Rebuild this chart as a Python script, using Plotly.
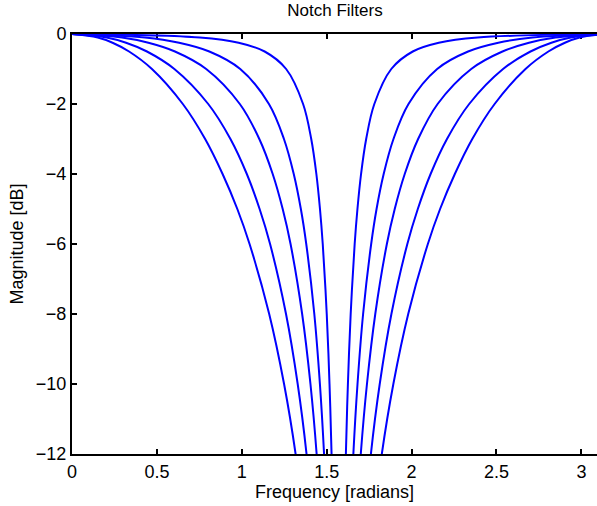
import plotly.graph_objects as go

# Magnitude levels (dB) at which each curve's frequency was read
levels = [0, -0.1, -0.25, -0.5, -1, -2, -3, -4, -5, -6, -8, -10, -12, -15]

# Frequencies (radians) where each curve passes the levels above, left side of the notch
left_1 = [0, 0.1514, 0.2388, 0.3360, 0.4708, 0.6527, 0.7842, 0.8869, 0.9737, 1.0458, 1.1614, 1.2490, 1.3169, 1.3920]
left_2 = [0, 0.2036, 0.3182, 0.4414, 0.6029, 0.8024, 0.9332, 1.0296, 1.1050, 1.1666, 1.2605, 1.3292, 1.3813, 1.4380]
left_3 = [0, 0.2941, 0.4501, 0.6063, 0.7904, 0.9884, 1.1032, 1.1820, 1.2409, 1.2872, 1.3555, 1.4044, 1.4408, 1.4800]
left_4 = [0, 0.4293, 0.6307, 0.8088, 0.9909, 1.1598, 1.2483, 1.3060, 1.3479, 1.3796, 1.4271, 1.4601, 1.4845, 1.5106]
left_5 = [0, 0.7532, 0.9814, 1.1347, 1.2612, 1.3610, 1.4090, 1.4392, 1.4605, 1.4768, 1.5003, 1.5166, 1.5286, 1.5414]

# Same levels, right side of the notch
right_1 = [3.1416, 2.9902, 2.9028, 2.8056, 2.6708, 2.4889, 2.3574, 2.2547, 2.1679, 2.0958, 1.9802, 1.8926, 1.8247, 1.7496]
right_2 = [3.1416, 2.9380, 2.8234, 2.7002, 2.5387, 2.3392, 2.2084, 2.1120, 2.0366, 1.9750, 1.8811, 1.8124, 1.7603, 1.7036]
right_3 = [3.1416, 2.8475, 2.6915, 2.5353, 2.3512, 2.1532, 2.0384, 1.9596, 1.9007, 1.8544, 1.7861, 1.7372, 1.7008, 1.6616]
right_4 = [3.1416, 2.7123, 2.5109, 2.3328, 2.1507, 1.9818, 1.8933, 1.8356, 1.7937, 1.7620, 1.7145, 1.6815, 1.6571, 1.6310]
right_5 = [3.1416, 2.3884, 2.1602, 2.0069, 1.8804, 1.7806, 1.7326, 1.7024, 1.6811, 1.6648, 1.6413, 1.6250, 1.6130, 1.6002]

x_ticks = [0, 0.5, 1, 1.5, 2, 2.5, 3]
x_tick_labels = ["0", "0.5", "1", "1.5", "2", "2.5", "3"]
y_ticks = [0, -2, -4, -6, -8, -10, -12]

title_text = "Notch Filters"
x_title = "Frequency [radians]"
y_title = "Magnitude [dB]"

FONT = "Liberation Sans, Arial, Helvetica, sans-serif"

fig = go.Figure()
curves = [(left_1, right_1), (left_2, right_2), (left_3, right_3), (left_4, right_4), (left_5, right_5)]
for lx, rx in curves:
    xs = list(lx) + [None] + list(reversed(rx))
    ys = list(levels) + [None] + list(reversed(levels))
    fig.add_trace(go.Scatter(
        x=xs, y=ys, mode="lines",
        line=dict(color="#0000FF", width=2, shape="spline", smoothing=1.0),
        connectgaps=False, showlegend=False, hoverinfo="skip",
    ))

fig.update_layout(
    width=597, height=506,
    margin=dict(l=72, r=0, t=34, b=52),
    paper_bgcolor="white", plot_bgcolor="white",
    font=dict(family=FONT, size=18, color="black"),
    title=dict(text=title_text, x=335 / 597, xref="container", xanchor="center",
               y=1 - 10 / 506, yref="container", yanchor="middle",
               font=dict(family=FONT, size=17, color="black")),
    showlegend=False,
)
fig.update_xaxes(
    range=[0, 3.092], tickvals=x_ticks, ticktext=x_tick_labels,
    showgrid=False, zeroline=False,
    showline=True, linecolor="black", linewidth=2, mirror="ticks",
    ticks="inside", ticklen=5, tickwidth=1.5, tickcolor="black",
    layer="below traces",
    title=dict(text=x_title, standoff=1, font=dict(family=FONT, size=18)),
)
fig.update_yaxes(
    range=[-12, 0], tickvals=y_ticks,
    showgrid=False, zeroline=False,
    showline=True, linecolor="black", linewidth=2, mirror=False,
    ticks="inside", ticklen=5, tickwidth=1.5, tickcolor="black",
    layer="below traces",
    title=dict(text=y_title, standoff=8, font=dict(family=FONT, size=18)),
)

fig.write_html("out.html", config={"displayModeBar": False},
               post_script="document.body.style.margin='0px';")
